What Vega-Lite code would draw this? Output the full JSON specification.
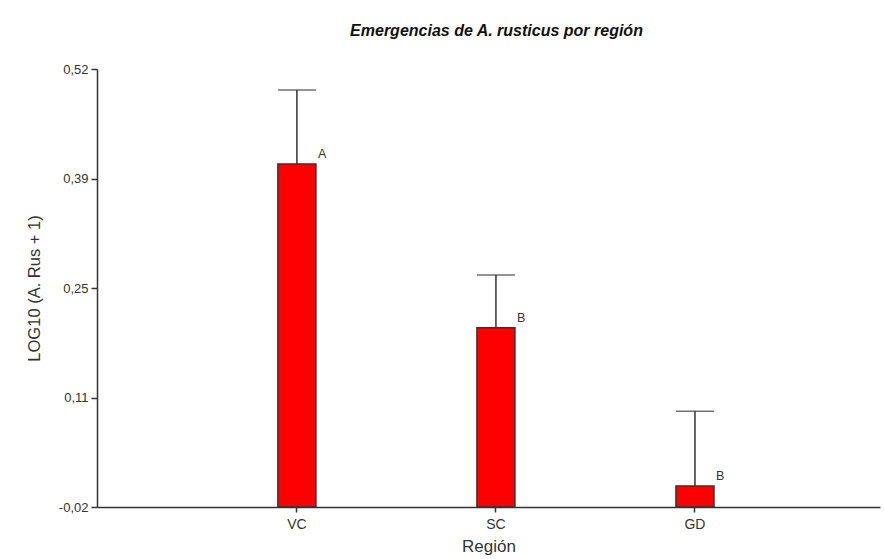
{
  "$schema": "https://vega.github.io/schema/vega-lite/v6.json",
  "width": 783,
  "height": 438,
  "autosize": {"type": "none"},
  "padding": {"left": 97, "top": 69, "right": 5, "bottom": 52},
  "background": "white",
  "config": {
    "view": {"stroke": null},
    "font": "Liberation Sans"
  },
  "title": {
    "text": "Emergencias de A. rusticus por región",
    "font": "Liberation Sans",
    "fontSize": 16,
    "fontStyle": "italic",
    "fontWeight": "bold",
    "color": "#111",
    "anchor": "middle",
    "dx": 8,
    "offset": 24
  },
  "data": {
    "values": [
      {"region": "VC", "mean": 0.403, "upper": 0.494, "group": "A"},
      {"region": "SC", "mean": 0.201, "upper": 0.266, "group": "B"},
      {"region": "GD", "mean": 0.006, "upper": 0.098, "group": "B"}
    ]
  },
  "encoding": {
    "x": {
      "field": "region",
      "type": "nominal",
      "sort": ["VC", "SC", "GD"],
      "scale": {"paddingInner": 0, "paddingOuter": 0.467, "align": 0.54},
      "axis": {
        "title": "Región",
        "titleFont": "Liberation Sans",
        "titleFontSize": 17,
        "titleFontWeight": "normal",
        "titleColor": "#333",
        "titlePadding": 7,
        "labelFont": "Liberation Sans",
        "labelFontSize": 14,
        "labelColor": "#333",
        "labelAngle": 0,
        "labelPadding": 5,
        "domainColor": "#333",
        "domainWidth": 1.5,
        "tickColor": "#333",
        "tickSize": 5,
        "tickWidth": 1.5,
        "grid": false
      }
    }
  },
  "layer": [
    {
      "mark": {"type": "bar", "width": 38, "color": "#ff0000", "stroke": "#333", "strokeWidth": 1.5},
      "encoding": {
        "y": {
          "field": "mean",
          "type": "quantitative",
          "scale": {"domain": [-0.02, 0.52], "nice": false, "zero": false},
          "axis": {
            "title": "LOG10 (A. Rus + 1)",
            "titleFont": "Liberation Sans",
            "titleFontSize": 16.5,
            "titleFontWeight": "normal",
            "titleColor": "#333",
            "titlePadding": 16,
            "values": [-0.02, 0.115, 0.25, 0.385, 0.52],
            "labelExpr": "datum.value < 0 ? '-0,02' : datum.value < 0.2 ? '0,11' : datum.value < 0.3 ? '0,25' : datum.value < 0.45 ? '0,39' : '0,52'",
            "labelFont": "Liberation Sans",
            "labelFontSize": 13,
            "labelColor": "#333",
            "labelPadding": 3,
            "domainColor": "#333",
            "domainWidth": 1.5,
            "tickColor": "#333",
            "tickSize": 6,
            "tickWidth": 1.5,
            "grid": false
          }
        },
        "y2": {"datum": -0.02}
      }
    },
    {
      "mark": {"type": "rule", "color": "#333", "strokeWidth": 1.5},
      "encoding": {
        "y": {"field": "mean", "type": "quantitative"},
        "y2": {"field": "upper"}
      }
    },
    {
      "mark": {"type": "tick", "color": "#333", "size": 38, "thickness": 1.5},
      "encoding": {
        "y": {"field": "upper", "type": "quantitative"}
      }
    },
    {
      "mark": {"type": "text", "align": "left", "baseline": "alphabetic", "dx": 21, "dy": -6, "font": "Liberation Sans", "fontSize": 12.5, "color": "#333"},
      "encoding": {
        "y": {"field": "mean", "type": "quantitative"},
        "text": {"field": "group"}
      }
    }
  ]
}
